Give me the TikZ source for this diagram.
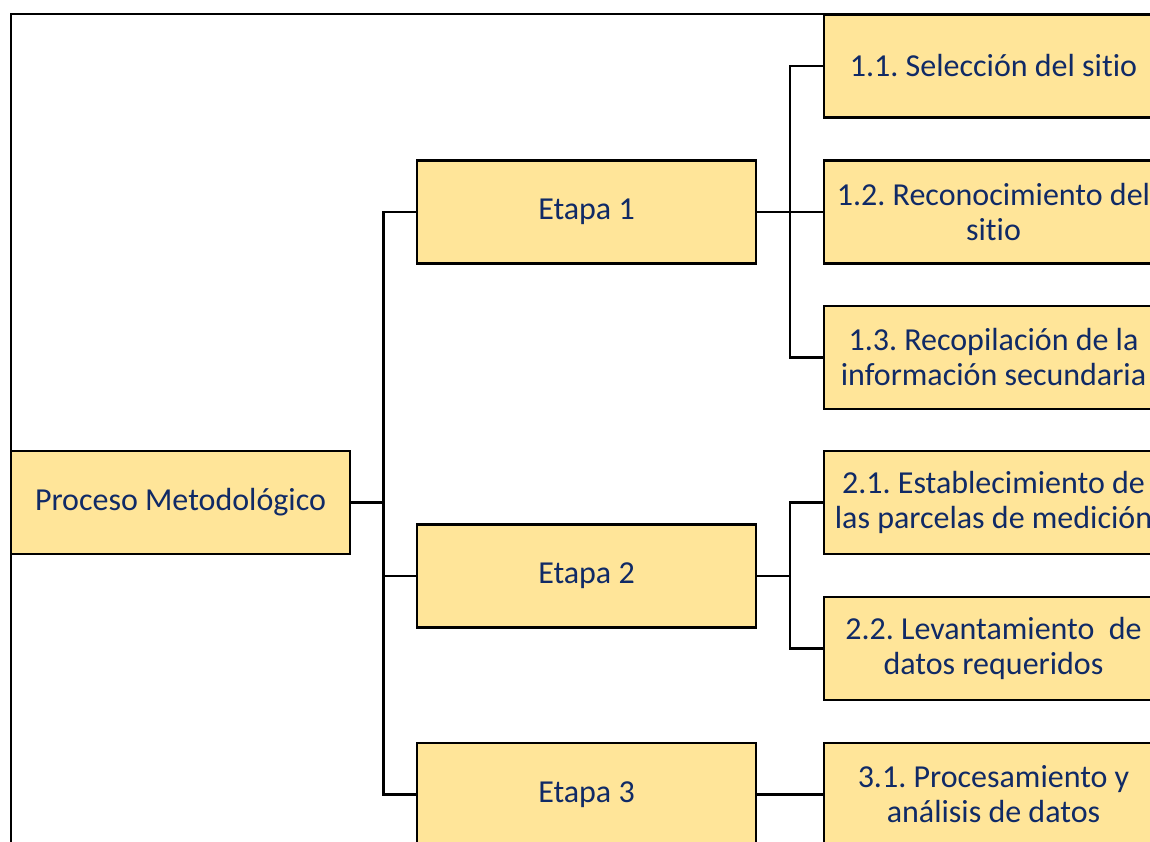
\documentclass[tikz,border=0pt]{standalone}
\usepackage{fontspec}
\setmainfont{Carlito}[Ligatures={NoCommon}]
\frenchspacing
\definecolor{boxfill}{HTML}{FFE599}
\definecolor{navy}{HTML}{102A66}
\begin{document}
\begin{tikzpicture}[x=1pt,y=-1pt,
  box/.style={draw=black, line width=2.8pt, fill=boxfill, minimum width=339pt, minimum height=103pt,
    inner sep=0pt, align=center, text=navy, font=\fontsize{32}{35}\selectfont},
  conn/.style={draw=black, line width=2.8pt}]
\useasboundingbox (0,0) rectangle (1150,842);
\clip (0,0) rectangle (1150,842);
\fill[white] (0,0) rectangle (1150,842);
\draw[conn] (11,14) rectangle (1400,1100);
\node[box] (pm) at (180.5,502.5) {Proceso Metodológico};
\node[box] (e1) at (586.5,212) {Etapa 1};
\node[box] (e2) at (586.5,576) {Etapa 2};
\node[box] (e3) at (586.5,794.5) {Etapa 3};
\node[box] (s11) at (993.5,66) {1.1. Selección del sitio};
\node[box] (s12) at (993.5,212) {1.2. Reconocimiento del\\sitio};
\node[box] (s13) at (993.5,357.5) {1.3. Recopilación de la\\información secundaria};
\node[box] (s21) at (993.5,502.5) {2.1. Establecimiento de\\las parcelas de medición};
\node[box] (s22) at (993.5,648.5) {2.2. Levantamiento\ \ de\\datos requeridos};
\node[box] (s31) at (993.5,794.5) {3.1. Procesamiento y\\análisis de datos};
\coordinate (j0) at (383.5,502.5);
\coordinate (j1) at (790,212);
\coordinate (j2) at (790,576);
\draw[conn] (pm.east) -- (j0);
\draw[conn] (j0) |- (e1.west);
\draw[conn] (j0) |- (e2.west);
\draw[conn] (j0) |- (e3.west);
\draw[conn] (e1.east) -- (j1);
\draw[conn] (j1) |- (s11.west);
\draw[conn] (j1) -- (s12.west);
\draw[conn] (j1) |- (s13.west);
\draw[conn] (e2.east) -- (j2);
\draw[conn] (j2) |- (s21.west);
\draw[conn] (j2) |- (s22.west);
\draw[conn] (e3.east) -- (s31.west);
\end{tikzpicture}
\end{document}
